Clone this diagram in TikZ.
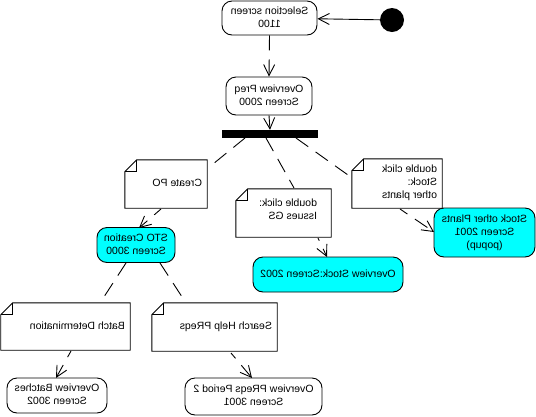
\documentclass[tikz,border=0pt]{standalone}
\usepackage{fontspec}
\setmainfont{Liberation Sans}
\usetikzlibrary{arrows.meta}

\definecolor{screencyan}{RGB}{0,255,255}

% mirrored multi-line text
\newcommand{\mtext}[2]{\reflectbox{\begin{tabular}{@{}#1@{}}#2\end{tabular}}}

\tikzset{
  every node/.style={font=\fontsize{10.5}{13}\selectfont, inner sep=0pt},
  screen/.style={draw, rounded corners=10pt, line width=0.9pt},
  plain/.style={screen, fill=white},
  hot/.style={screen, fill=screencyan},
  notebox/.style={draw=none, rectangle},
  notefold/.style={draw, line width=0.9pt, fill=white},
  flow/.style={line width=0.9pt, dash pattern=on 15pt off 9pt},
  arr/.style={-{Straight Barb[length=11pt,width=11pt,line width=0.9pt]}},
}

\begin{document}
\begin{tikzpicture}[x=1pt, y=-1pt]
\useasboundingbox (0,0) rectangle (536,416);

% start state and screens
\node[fill, circle, minimum size=24pt] (start) at (392,20) {};
\node[plain, minimum width=95pt, minimum height=34pt] (sel) at (269.5,18) {\mtext{c}{Selection screen\\1100}};
\node[plain, minimum width=86pt, minimum height=38pt] (preq) at (269,96) {\mtext{c}{Overview Preq\\Screen 2000}};
\node[fill, minimum width=96pt, minimum height=8pt] (bar) at (270,134) {};

\node[hot, minimum width=78pt, minimum height=35pt] (sto) at (136,245) {\mtext{c}{STO Creation\\Screen 3000}};
\node[hot, minimum width=150pt, minimum height=35pt] (stock) at (328,274.5) {\mtext{c}{Overview Stock:Screen 2002}};
\node[hot, minimum width=101pt, minimum height=49pt] (plants) at (484.5,232.5) {\mtext{c}{Stock other Plants\\Screen 2001\\(popup)}};
\node[plain, minimum width=100pt, minimum height=35pt] (batches) at (57,395.5) {\mtext{c}{Overview Batches\\Screen 3002}};
\node[plain, minimum width=137pt, minimum height=37pt] (period) at (253.5,396.5) {\mtext{c}{Overview PReqs Period 2\\Screen 3001}};

% notes (outline drawn below)
\node[notebox, minimum width=82pt, minimum height=48pt] (create) at (166,184) {};
\node[notebox, minimum width=95pt, minimum height=48pt] (issues) at (283.5,213) {};
\node[notebox, minimum width=90pt, minimum height=49pt] (other) at (397,183.5) {};
\node[notebox, minimum width=129pt, minimum height=47pt] (batch) at (65.5,326.5) {};
\node[notebox, minimum width=125pt, minimum height=48pt] (search) at (214.5,327) {};

\foreach \n in {create,issues,other,batch,search}{
  \draw[notefold] ([xshift=12pt]\n.north west) -- (\n.north east) -- (\n.south east)
    -- (\n.south west) -- ([yshift=-12pt]\n.north west) -- cycle;
  \draw[line width=0.9pt] ([xshift=12pt]\n.north west) -- ([xshift=12pt,yshift=-12pt]\n.north west)
    -- ([yshift=-12pt]\n.north west);
}

\node[anchor=east] (createT) at ([xshift=-5pt]create.east) {\mtext{l}{Create PO}};
\node[anchor=north east] (issuesT) at ([xshift=-14pt,yshift=-8pt]issues.north east) {\mtext{l}{double click:\\Issues GS}};
\node[anchor=north east] (otherT) at ([xshift=-5pt,yshift=-4pt]other.north east) {\mtext{l}{double click\\Stock:\\other plants}};
\node[anchor=east] (batchT) at ([xshift=-5pt]batch.east) {\mtext{l}{Batch Determination}};
\node[anchor=east] (searchT) at ([xshift=-5pt]search.east) {\mtext{l}{Search Help PReqs}};

% transitions
\coordinate (b1) at (245,138);
\coordinate (b2) at (266,138);
\coordinate (b3) at (296,138);
\coordinate (c1) at (213,164);
\coordinate (c2) at (294,188);
\coordinate (c3) at (348,175);

\draw[line width=0.9pt, arr] (start) -- (sel);
\draw[flow, arr] (sel.south) -- (preq.north);
\draw[line width=0.9pt, arr] (preq.south) -- (bar.north);

\draw[flow] (b1) -- (c1);
\draw[flow] (b2) -- (c2);
\draw[flow] (b3) -- (c3);

\draw[flow, arr, dash phase=6pt] (161,209) -- (139,228);
\draw[flow, arr, dash phase=12pt] (318,238) -- (327,257);
\draw[flow, arr, dash phase=6pt] (400,209) -- (434,232);

\draw[flow] (126,263) -- (100,303);
\draw[flow] (160,263) -- (186,303);

\draw[flow, arr, dash phase=8pt] (71,351) -- (56,378);
\draw[flow, arr, dash phase=8pt] (231,353) -- (252,378);
\end{tikzpicture}
\end{document}
